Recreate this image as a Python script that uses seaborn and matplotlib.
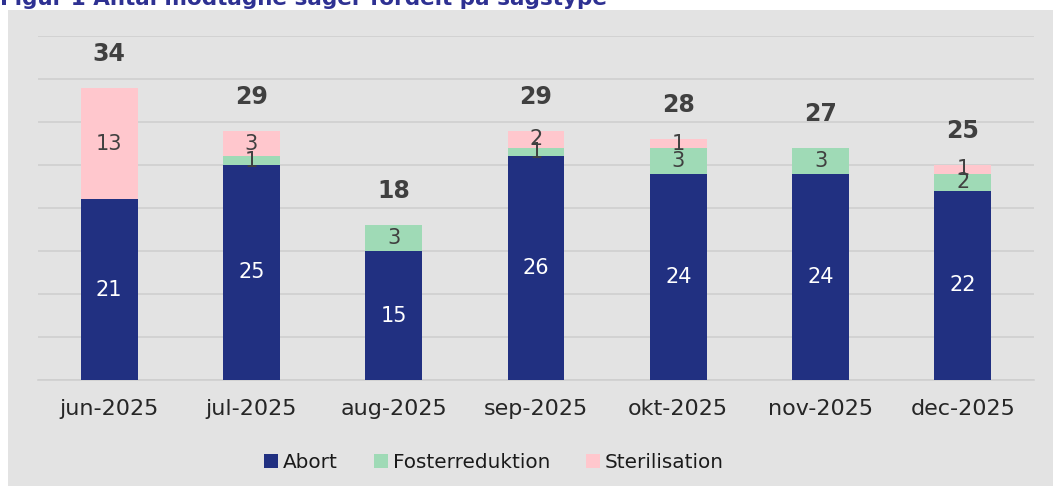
import matplotlib
matplotlib.use("Agg")
import matplotlib.pyplot as plt
import matplotlib.patches as mpatches
import seaborn as sns
import pandas as pd
import numpy as np

months = ["jun-2025", "jul-2025", "aug-2025", "sep-2025", "okt-2025", "nov-2025", "dec-2025"]
abort = [21, 25, 15, 26, 24, 24, 22]
foster = [0, 1, 3, 1, 3, 3, 2]
steril = [13, 3, 0, 2, 1, 0, 1]
totals = [34, 29, 18, 29, 28, 27, 25]
series_names = ["Abort", "Fosterreduktion", "Sterilisation"]
colors = ["#213081", "#9fdab6", "#ffc7cd"]
bg = "#e3e3e3"

sns.set_theme(style="white")
plt.rcParams['font.family'] = ['DejaVu Sans']

fig = plt.figure(figsize=(10.53, 4.86), dpi=100)
fig.patch.set_facecolor("white")
fig.patches.append(mpatches.Rectangle((8/1053, 0), 1 - 8/1053, 1 - 10/486,
                                      transform=fig.transFigure, facecolor=bg,
                                      edgecolor="none", zorder=-10))
fig.text(0.0, 1 - 5/486, "Figur 1 Antal modtagne sager fordelt på sagstype",
         color="#2e3192", fontsize=15.5, fontweight="bold", va="baseline", ha="left")

ax = fig.add_axes([38/1053, 1 - 380/486, (1034 - 38)/1053, (380 - 36)/486])
ax.set_facecolor(bg)

df = pd.DataFrame({"month": months, "abort": abort, "foster": foster, "steril": steril})
df["c1"] = df["abort"]
df["c2"] = df["abort"] + df["foster"]
df["c3"] = df["c2"] + df["steril"]

for col, color in zip(["c3", "c2", "c1"], colors[::-1]):
    sns.barplot(data=df, x="month", y=col, color=color, width=0.4,
                saturation=1, ax=ax, zorder=3, order=months,
                edgecolor="none", linewidth=0)

ax.set_ylim(0, 40)
ax.set_xlim(-0.5, len(months) - 0.5)
ax.set_yticks(np.arange(0, 41, 5))
ax.yaxis.grid(True, color="#cfcfcf", linewidth=1.2, zorder=0)
ax.set_axisbelow(True)
ax.tick_params(axis="y", left=False, labelleft=False)
ax.tick_params(axis="x", bottom=False, labelsize=16, colors="#262626", pad=8)
ax.set_xlabel("")
ax.set_ylabel("")
for s in ["top", "left", "right"]:
    ax.spines[s].set_visible(False)
ax.spines["bottom"].set_color("#cfcfcf")
ax.spines["bottom"].set_linewidth(1.2)

for i in range(len(months)):
    a, f, s = abort[i], foster[i], steril[i]
    ax.text(i, a / 2, str(a), ha="center", va="center", color="white", fontsize=15, zorder=5)
    if f:
        ax.text(i, a + f / 2, str(f), ha="center", va="center", color="#404040", fontsize=15, zorder=5)
    if s:
        ax.text(i, a + f + s / 2, str(s), ha="center", va="center", color="#404040", fontsize=15, zorder=5)
    ax.annotate(str(totals[i]), (i, a + f + s), xytext=(0, 34), textcoords="offset pixels",
                ha="center", va="center", fontsize=17, fontweight="bold", color="#404040", zorder=5)

handles = [mpatches.Patch(facecolor=c, edgecolor="none") for c in colors]
fig.legend(handles, series_names, loc="center", bbox_to_anchor=(494/1053, 1 - 462/486),
           ncol=3, frameon=False, fontsize=14.4, handlelength=0.7, handleheight=0.7,
           handletextpad=0.25, columnspacing=1.8, labelcolor="#1a1a1a")

fig.savefig("out.png", dpi=100, facecolor=fig.get_facecolor())
